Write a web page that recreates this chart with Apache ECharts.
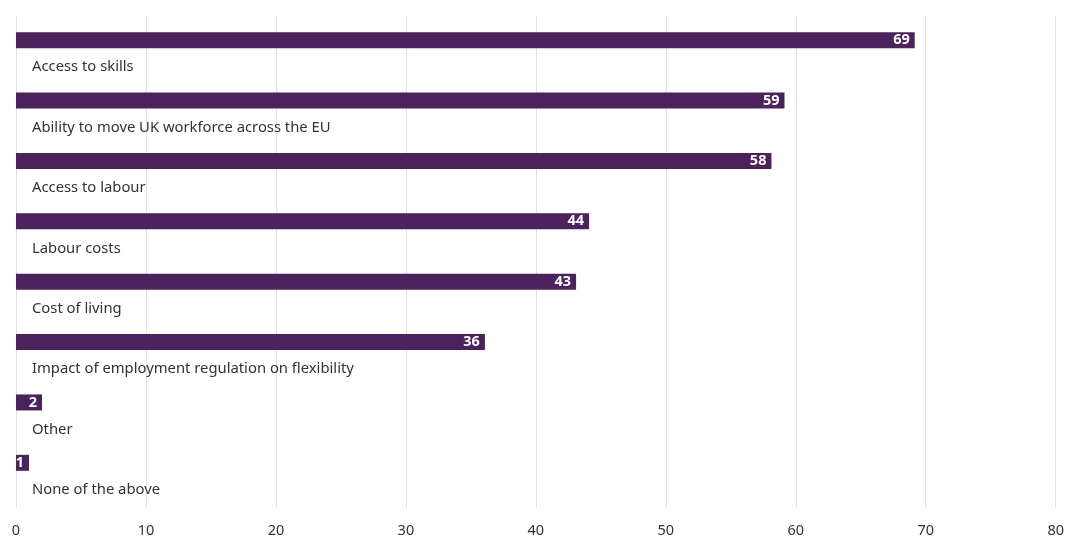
<!DOCTYPE html>
<html>
<head>
<meta charset="utf-8">
<script src="https://cdn.jsdelivr.net/npm/echarts@6/dist/echarts.min.js"></script>
<style>html,body{margin:0;padding:0;background:#fff}#c{width:1067px;height:538px}</style>
</head>
<body>
<div id="c"></div>
<script>
var categories = ["Access to skills","Ability to move UK workforce across the EU","Access to labour","Labour costs","Cost of living","Impact of employment regulation on flexibility","Other","None of the above"];
var values = [69,59,58,44,43,36,2,1];
var xTicks = [0,10,20,30,40,50,60,70,80];

var chart = echarts.init(document.getElementById('c'));
chart.setOption({
  animation: false,
  grid: [
    {left: 16, right: 9, top: 16, height: 493},
    {left: 16, right: 9, top: 10, height: 483}
  ],
  xAxis: [
    {gridIndex: 0, type: 'value', min: xTicks[0], max: xTicks[xTicks.length-1], interval: 10,
     axisLine: {show: false}, axisTick: {show: false},
     axisLabel: {color: '#333', fontSize: 14.5, fontFamily: 'Noto Sans', margin: 15},
     splitLine: {lineStyle: {color: '#e2e2e2', width: 1}}},
    {gridIndex: 1, type: 'value', min: xTicks[0], max: xTicks[xTicks.length-1], show: false}
  ],
  yAxis: [
    {gridIndex: 0, type: 'category', data: [''], show: false},
    {gridIndex: 1, type: 'category', data: categories, inverse: true, show: false}
  ],
  series: [
    {type: 'bar', xAxisIndex: 1, yAxisIndex: 1, data: values, barWidth: 16,
     itemStyle: {color: '#4b215e'},
     label: {show: true, position: 'insideRight', distance: 5, color: '#fff', fontWeight: 'bold', fontSize: 14.5, fontFamily: 'Noto Sans'}},
    {type: 'bar', xAxisIndex: 1, yAxisIndex: 1, data: values, barWidth: 16, barGap: '-100%',
     itemStyle: {color: 'rgba(0,0,0,0)'}, silent: true,
     label: {show: true, position: [16, 35], align: 'left', verticalAlign: 'middle', color: '#333', fontSize: 14.8, fontFamily: 'Noto Sans',
       formatter: function(p){ return categories[p.dataIndex]; }}}
  ]
});
</script>
</body>
</html>
